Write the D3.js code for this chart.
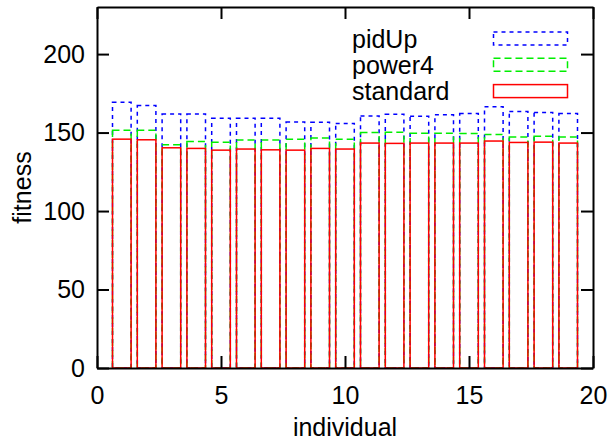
<!DOCTYPE html>
<html>
<head>
<meta charset="utf-8">
<script src="https://cdn.jsdelivr.net/npm/d3@7"></script>
<style>
  body { margin: 0; background: #fff; }
  text { font-family: "Liberation Sans", Arial, sans-serif; font-size: 25px; fill: #000; }
</style>
</head>
<body>
<div id="chart"></div>
<script>
var individuals = d3.range(1, 20);
var pidUp    = [169.3, 167.2, 161.9, 161.9, 159.1, 159.1, 159.1, 156.8, 156.6, 155.8, 160.6, 161.7, 160.4, 161.3, 162.1, 166.5, 163.4, 162.8, 162.1];
var power4   = [151.5, 151.5, 142.2, 144.3, 143.9, 145.2, 145.2, 145.8, 146.5, 145.8, 150.0, 150.2, 149.6, 149.6, 149.4, 148.8, 147.1, 147.6, 147.1];
var standard = [145.8, 145.4, 140.3, 139.9, 138.8, 139.5, 139.0, 138.8, 139.9, 139.5, 143.3, 143.1, 143.3, 143.3, 143.3, 144.6, 143.7, 143.9, 143.3];
var xTicks = [0, 5, 10, 15, 20];
var yTicks = [0, 50, 100, 150, 200];

var series = [
  {name: 'pidUp', values: pidUp, color: '#0000ff', dash: '4,4'},
  {name: 'power4', values: power4, color: '#00ee00', dash: '7,4'},
  {name: 'standard', values: standard, color: '#ff0000', dash: null}
];

var W = 611, H = 443;
var margin = {top: 7, right: 18, bottom: 75, left: 97};
var width = W - margin.left - margin.right,
    height = H - margin.top - margin.bottom;

var x = d3.scaleLinear().domain([0, 20]).range([0, width]);
var y = d3.scaleLinear().domain([0, 230]).range([height, 0]);
var boxWidth = 0.75;

var svg = d3.select('#chart').append('svg')
  .attr('width', W).attr('height', H);
var g = svg.append('g')
  .attr('transform', 'translate(' + margin.left + ',' + margin.top + ')');

// bars
series.forEach(function(s) {
  g.append('g').selectAll('rect').data(s.values)
    .enter().append('rect')
      .attr('x', function(d, i) { return x(individuals[i] - boxWidth / 2); })
      .attr('y', function(d) { return y(d); })
      .attr('width', x(boxWidth) - x(0))
      .attr('height', function(d) { return y(0) - y(d); })
      .style('fill', 'none')
      .style('stroke', s.color)
      .style('stroke-width', 1.5)
      .style('stroke-dasharray', s.dash);
});

// axes with inward ticks, mirrored
var tickLen = 12;
var leftAxis = d3.axisLeft(y).tickValues(yTicks).tickSizeInner(-tickLen).tickSizeOuter(0).tickPadding(12);
var rightAxis = d3.axisRight(y).tickValues(yTicks).tickSizeInner(-tickLen).tickSizeOuter(0).tickFormat('');
var bottomAxis = d3.axisBottom(x).tickValues(xTicks).tickSizeInner(-tickLen).tickSizeOuter(0).tickPadding(18);
var topAxis = d3.axisTop(x).tickValues(xTicks).tickSizeInner(-tickLen).tickSizeOuter(0).tickFormat('');

g.append('g').call(leftAxis);
g.append('g').attr('transform', 'translate(' + width + ',0)').call(rightAxis);
g.append('g').attr('transform', 'translate(0,' + height + ')').call(bottomAxis);
g.append('g').call(topAxis);

g.selectAll('.domain').style('stroke', '#000').style('stroke-width', 2);
g.selectAll('.tick line').style('stroke', '#000').style('stroke-width', 2);
g.selectAll('.tick text').style('font-size', '25px').style('font-family', '"Liberation Sans", Arial, sans-serif');

// axis labels
svg.append('text')
  .attr('x', margin.left + width / 2).attr('y', 436)
  .attr('text-anchor', 'middle').text('individual');
svg.append('text')
  .attr('transform', 'translate(31,' + (margin.top + height / 2) + ') rotate(-90)')
  .attr('text-anchor', 'middle').text('fitness');

// legend
var legend = svg.append('g');
series.forEach(function(s, i) {
  var cy = 38.5 + i * 26.3;
  legend.append('text')
    .attr('x', 352).attr('y', cy + 9)
    .text(s.name);
  legend.append('rect')
    .attr('x', 493.5).attr('y', cy - 6.5)
    .attr('width', 74).attr('height', 13)
    .style('fill', 'none')
    .style('stroke', s.color)
    .style('stroke-width', 1.5)
    .style('stroke-dasharray', s.dash);
});
</script>
</body>
</html>
